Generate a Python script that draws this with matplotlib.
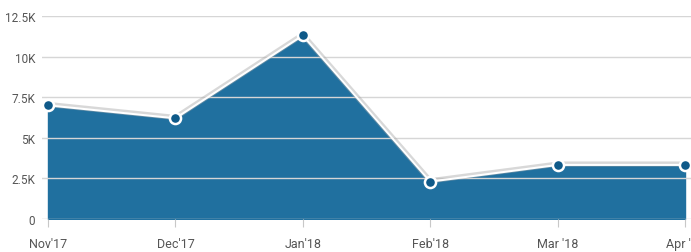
import numpy as np
import matplotlib.pyplot as plt
import matplotlib.patheffects as pe

months = ["Nov'17", "Dec'17", "Jan'18", "Feb'18", "Mar '18", "Apr '18"]
values = [7000, 6200, 11300, 2300, 3330, 3330]
yticks = [0, 2500, 5000, 7500, 10000, 12500]
ylabels = ["0", "2.5K", "5K", "7.5K", "10K", "12.5K"]

fill_col = '#20709f'
dot_col = '#0f5a89'

plt.rcParams['font.family'] = ['Roboto', 'DejaVu Sans']
fig = plt.figure(figsize=(6.91, 2.53), dpi=100)
ax = fig.add_axes([42/691, 1-220/253, 1-42/691, 203/253])

x = np.arange(len(months))
ext = 6/127.4
ax.fill_between(x, values, 0, color=fill_col, zorder=1)
for t in yticks[1:]:
    ax.axhline(t, color='#d6d6d6', lw=1, zorder=2)
ax.axhline(0, color='#c8c8c8', lw=1, zorder=2)
# line with a soft grey halo
ax.plot(x, values, color='white', lw=1.5, zorder=3,
        path_effects=[pe.SimpleLineShadow(offset=(0, 0.6), shadow_color='#aaaaaa', alpha=0.45, linewidth=3.8),
                      pe.Normal()])
ax.plot(x, values, 'o', ms=8, mfc=dot_col, mec='white', mew=1.8, zorder=4, clip_on=False)

ax.set_xlim(-ext, len(months)-1+ext)
ax.set_ylim(0, 12500)
ax.set_xticks(x)
ax.set_xticklabels(months)
ax.set_yticks(yticks)
ax.set_yticklabels(ylabels)
ax.tick_params(axis='x', length=6, color='#c8c8c8', pad=7, labelsize=9, labelcolor='#555555')
ax.tick_params(axis='y', length=0, pad=5, labelsize=8.5, labelcolor='#555555')
for s in ax.spines.values():
    s.set_visible(False)
plt.savefig('out.png', dpi=100)
